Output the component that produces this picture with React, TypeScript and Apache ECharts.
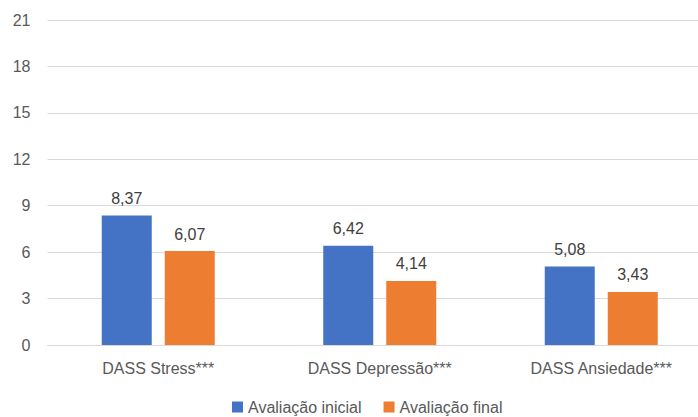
import React, { useEffect, useRef } from "react";
import * as echarts from "echarts";

const categories = ["DASS Stress***", "DASS Depressão***", "DASS Ansiedade***"];
const seriesNames = ["Avaliação inicial", "Avaliação final"];
const inicialValues = [8.37, 6.42, 5.08];
const finalValues = [6.07, 4.14, 3.43];
const yMin = 0;
const yMax = 21;
const yInterval = 3;

const FONT = "'Liberation Sans', Arial, sans-serif";

export default function App() {
  const ref = useRef<HTMLDivElement>(null);
  useEffect(() => {
    document.body.style.margin = "0";
    document.body.style.overflow = "hidden";
    const chart = echarts.init(ref.current!, undefined, { renderer: "svg" });
    const labelCfg = {
      show: true,
      position: "top",
      distance: 9,
      color: "#404040",
      fontSize: 16,
      fontFamily: FONT,
      formatter: (p: any) => String(p.value.toFixed(2)).replace(".", ","),
    };
    chart.setOption({
      animation: false,
      backgroundColor: "#ffffff",
      textStyle: { fontFamily: FONT },
      grid: { left: 47.5, right: 2, top: 20, bottom: 72, containLabel: false },
      legend: {
        data: seriesNames,
        left: 232,
        top: 399,
        padding: 0,
        icon: "rect",
        itemWidth: 11,
        itemHeight: 11,
        itemGap: 22,
        textStyle: { color: "#595959", fontSize: 16, fontFamily: FONT, lineHeight: 16 },
      },
      xAxis: {
        type: "category",
        data: categories,
        axisLine: { show: true, lineStyle: { color: "#D9D9D9", width: 1 } },
        axisTick: { show: false },
        axisLabel: { color: "#595959", fontSize: 16, fontFamily: FONT, margin: 15 },
      },
      yAxis: {
        type: "value",
        min: yMin,
        max: yMax,
        interval: yInterval,
        axisLine: { show: false },
        axisTick: { show: false },
        splitLine: { lineStyle: { color: "#D9D9D9", width: 1 } },
        axisLabel: { color: "#595959", fontSize: 16, fontFamily: FONT, margin: 17 },
      },
      series: [
        {
          name: seriesNames[0],
          type: "bar",
          data: inicialValues,
          barWidth: 50,
          barGap: "26%",
          itemStyle: { color: "#4472C4" },
          label: labelCfg,
        },
        {
          name: seriesNames[1],
          type: "bar",
          data: finalValues,
          barWidth: 50,
          barGap: "26%",
          itemStyle: { color: "#ED7D31" },
          label: labelCfg,
        },
      ],
    });
    return () => chart.dispose();
  }, []);
  return (
    <div style={{ width: 698, height: 417, overflow: "hidden", position: "relative" }}>
      <div ref={ref} style={{ width: 714, height: 417 }} />
    </div>
  );
}
